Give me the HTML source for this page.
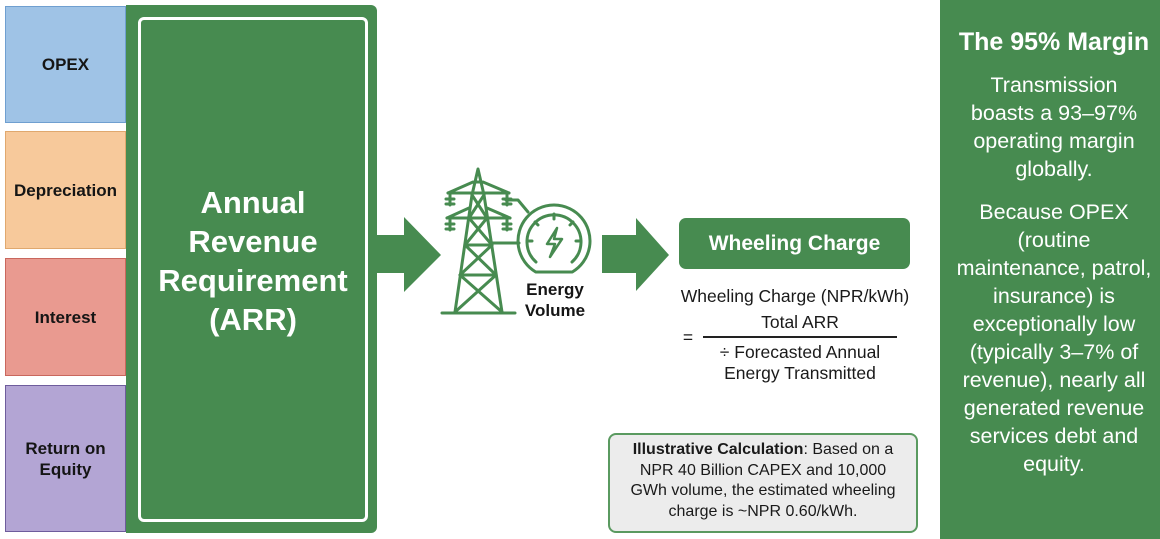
<!DOCTYPE html>
<html><head><meta charset="utf-8">
<style>
html,body{margin:0;padding:0;background:#fff;}
body{width:1160px;height:539px;position:relative;overflow:hidden;font-family:"Liberation Sans",Arial,sans-serif;}
.box{position:absolute;left:5px;width:119px;border:1.5px solid;display:flex;align-items:center;justify-content:center;text-align:center;font-weight:bold;font-size:17px;color:#151515;line-height:21px;}
.g{background:#478b50;}
.t{position:absolute;white-space:nowrap;text-align:center;}
</style></head><body>

<div class="box" style="top:6px;height:115px;background:#9fc3e6;border-color:#6f9fd0;">OPEX</div>
<div class="box" style="top:131px;height:116px;background:#f7c99b;border-color:#e0a86e;">Depreciation</div>
<div class="box" style="top:258px;height:116px;background:#e99a90;border-color:#c9675d;">Interest</div>
<div class="box" style="top:385px;height:145px;background:#b3a5d4;border-color:#6e5c9c;">Return on<br>Equity</div>

<div class="g" style="position:absolute;left:126px;top:5px;width:251px;height:528px;border-radius:0 6px 6px 0;"></div>
<div style="position:absolute;left:138px;top:17px;width:224px;height:499px;border:3px solid #fff;border-radius:6px;"></div>
<div class="t" style="left:138px;width:230px;top:183px;color:#fff;font-weight:bold;font-size:31px;line-height:39px;">Annual<br>Revenue<br>Requirement<br>(ARR)</div>

<svg width="1160" height="539" style="position:absolute;left:0;top:0;">
  <polygon points="377,235 404,235 404,217 441,255 404,292 404,273 377,273" fill="#478b50"/>
  <polygon points="602,235 636,235 636,218 669,255 636,291 636,273 602,273" fill="#478b50"/>
  <g stroke="#478b50" stroke-width="3" fill="none" stroke-linecap="round" stroke-linejoin="round">
    <!-- tower legs -->
    <polyline points="455,312 472,195 478,169 484,195 502,312"/>
    <line x1="442" y1="313" x2="515" y2="313"/>
    <!-- crossarms -->
    <polyline points="448,193 509,193"/>
    <polyline points="448,193 473,182"/>
    <polyline points="509,193 483,182"/>
    <polyline points="447,218 510,218"/>
    <polyline points="447,218 469,208"/>
    <polyline points="510,218 487,208"/>
    <!-- insulators -->
    <line x1="450" y1="193" x2="450" y2="205"/><line x1="446" y1="199" x2="454" y2="199"/><line x1="446" y1="204" x2="454" y2="204"/>
    <line x1="507" y1="193" x2="507" y2="205"/><line x1="503" y1="199" x2="511" y2="199"/><line x1="503" y1="204" x2="511" y2="204"/>
    <line x1="450" y1="218" x2="450" y2="230"/><line x1="446" y1="224" x2="454" y2="224"/><line x1="446" y1="229" x2="454" y2="229"/>
    <line x1="507" y1="218" x2="507" y2="230"/><line x1="503" y1="224" x2="511" y2="224"/><line x1="503" y1="229" x2="511" y2="229"/>
    <!-- bracing -->
    <line x1="472" y1="195" x2="487" y2="218"/><line x1="484" y1="195" x2="469" y2="218"/>
    <line x1="469" y1="218" x2="492" y2="245"/><line x1="487" y1="218" x2="465" y2="245"/>
    <line x1="465" y1="245" x2="492" y2="245"/>
    <line x1="465" y1="245" x2="496" y2="275"/><line x1="492" y1="245" x2="460" y2="275"/>
    <line x1="460" y1="275" x2="496" y2="275"/>
    <line x1="460" y1="275" x2="502" y2="312"/><line x1="496" y1="275" x2="455" y2="312"/>
    <line x1="475" y1="182" x2="481" y2="182"/>
    <!-- wires -->
    <polyline points="506,200 518,200 528,212"/>
    <line x1="492" y1="243" x2="519" y2="243"/>
    <!-- gauge -->
    <path d="M535.7 272 A36 36 0 1 1 572.3 272 Z"/>
    <path d="M536 262 A27 27 0 1 1 572 262"/>
    <line x1="554" y1="214" x2="554" y2="219"/>
    <line x1="535" y1="222" x2="538" y2="225"/>
    <line x1="573" y1="222" x2="570" y2="225"/>
    <line x1="527" y1="241" x2="532" y2="241"/>
    <line x1="581" y1="241" x2="576" y2="241"/>
    <path d="M557 228 L547 244 L555 244 L550 257 L562 239 L554 239 Z" stroke-width="2.5"/>
  </g>
</svg>
<div class="t" style="left:515px;width:80px;top:279px;font-weight:bold;font-size:17px;line-height:21px;color:#151515;">Energy<br>Volume</div>

<div class="g" style="position:absolute;left:679px;top:218px;width:231px;height:51px;border-radius:7px;"></div>
<div class="t" style="left:679px;width:231px;top:231px;color:#fff;font-weight:bold;font-size:21px;line-height:26px;">Wheeling Charge</div>

<div class="t" style="left:660px;width:270px;top:285px;font-size:17.5px;line-height:22px;color:#1a1a1a;">Wheeling Charge (NPR/kWh)</div>
<div class="t" style="left:700px;width:200px;top:311px;font-size:17.5px;line-height:22px;color:#1a1a1a;">Total ARR</div>
<div class="t" style="left:680px;width:16px;top:326px;font-size:17.5px;line-height:22px;color:#1a1a1a;">=</div>
<div style="position:absolute;left:703px;top:336px;width:194px;height:1.5px;background:#222;"></div>
<div class="t" style="left:690px;width:220px;top:342px;font-size:17.5px;line-height:21px;color:#1a1a1a;">÷ Forecasted Annual<br>Energy Transmitted</div>

<div style="position:absolute;left:608px;top:433px;width:306px;height:96px;border:2px solid #5a9a60;border-radius:8px;background:#ececec;"></div>
<div class="t" style="left:608px;width:310px;top:440px;font-size:16px;line-height:20.5px;color:#1a1a1a;"><b>Illustrative Calculation</b>: Based on a<br>NPR 40 Billion CAPEX and 10,000<br>GWh volume, the estimated wheeling<br>charge is ~NPR 0.60/kWh.</div>

<div class="g" style="position:absolute;left:940px;top:0;width:220px;height:539px;"></div>
<div class="t" style="left:940px;width:228px;top:27px;color:#fff;font-weight:bold;font-size:25px;line-height:30px;">The 95% Margin</div>
<div class="t" style="left:940px;width:228px;top:71px;color:#fff;font-size:21.5px;line-height:28px;">Transmission<br>boasts a 93–97%<br>operating margin<br>globally.</div>
<div class="t" style="left:940px;width:228px;top:198px;color:#fff;font-size:21.5px;line-height:28px;">Because OPEX<br>(routine<br>maintenance, patrol,<br>insurance) is<br>exceptionally low<br>(typically 3–7% of<br>revenue), nearly all<br>generated revenue<br>services debt and<br>equity.</div>

</body></html>
